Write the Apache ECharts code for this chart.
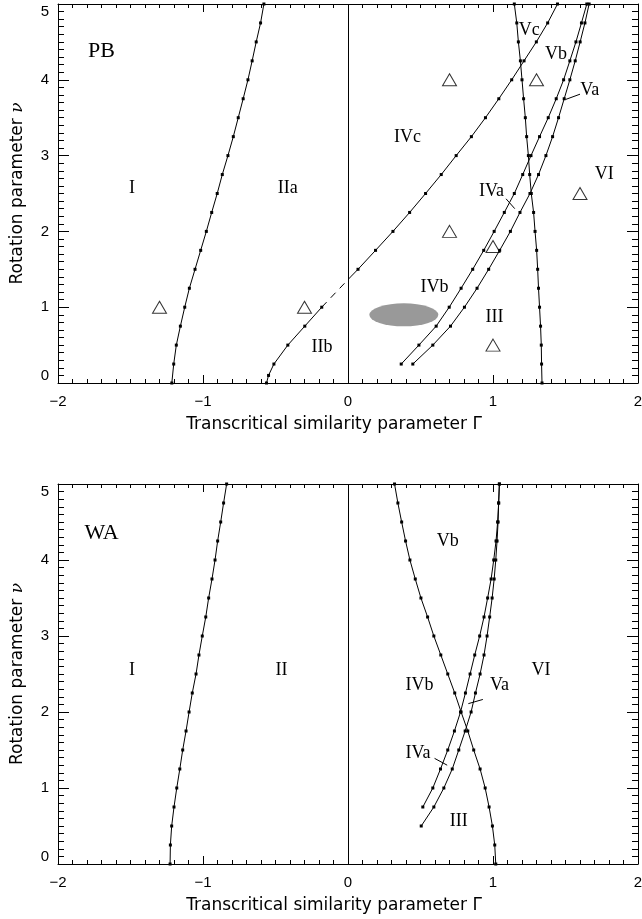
<!DOCTYPE html>
<html>
<head>
<meta charset="utf-8">
<script src="https://cdn.jsdelivr.net/npm/echarts@6.0.0/dist/echarts.min.js"></script>
<style>
  html, body { margin: 0; padding: 0; background: #fff; }
  #chart { width: 642px; height: 919px; }
</style>
</head>
<body>
<div id="chart"></div>
<script>
// ---- data (x = Gamma, y = nu) ----
const xTicks = [-2, -1, 0, 1, 2];
const yTicks = [0, 1, 2, 3, 4, 5];

// PB panel
const pbLeft = [[-1.215,0],[-1.202,0.25],[-1.184,0.5],[-1.156,0.75],[-1.126,1.0],[-1.094,1.25],[-1.055,1.5],[-1.016,1.75],[-0.977,2.0],[-0.94,2.25],[-0.902,2.5],[-0.867,2.75],[-0.828,3.0],[-0.791,3.25],[-0.757,3.5],[-0.723,3.75],[-0.69,4.0],[-0.661,4.25],[-0.633,4.5],[-0.603,4.75],[-0.58,5.0]];
const pbIIb = [[-0.562,0],[-0.548,0.1],[-0.511,0.25],[-0.415,0.5],[-0.298,0.75],[-0.181,1.0]];
const pbDashed = [[-0.181,1.0],[0.023,1.41]];
const pbIVc = [[0.023,1.41],[0.069,1.5],[0.19,1.75],[0.31,2.0],[0.425,2.25],[0.535,2.5],[0.643,2.75],[0.746,3.0],[0.851,3.25],[0.948,3.5],[1.04,3.75],[1.129,4.0],[1.214,4.25],[1.299,4.5],[1.377,4.75],[1.445,5.0]];
const pbVc = [[1.338,0],[1.335,0.25],[1.333,0.5],[1.328,0.75],[1.321,1.0],[1.314,1.25],[1.308,1.5],[1.301,1.75],[1.29,2.0],[1.28,2.25],[1.264,2.5],[1.253,2.75],[1.244,3.0],[1.232,3.25],[1.223,3.5],[1.211,3.75],[1.2,4.0],[1.189,4.25],[1.175,4.5],[1.164,4.75],[1.147,5.0]];
const pbIVb = [[0.367,0.25],[0.489,0.5],[0.608,0.75],[0.698,1.0],[0.78,1.25],[0.86,1.5],[0.936,1.75],[1.008,2.0],[1.078,2.25],[1.147,2.5],[1.205,2.75],[1.262,3.0],[1.321,3.25],[1.381,3.5],[1.436,3.75],[1.487,4.0],[1.53,4.25],[1.572,4.5],[1.61,4.75],[1.647,5.0]];
const pbIII = [[0.447,0.25],[0.585,0.5],[0.707,0.75],[0.803,1.0],[0.89,1.25],[0.97,1.5],[1.046,1.75],[1.12,2.0],[1.186,2.25],[1.255,2.5],[1.314,2.75],[1.365,3.0],[1.411,3.25],[1.452,3.5],[1.491,3.75],[1.53,4.0],[1.567,4.25],[1.601,4.5],[1.634,4.75],[1.663,5.0]];
const pbTriangles = [[-1.3,1],[-0.3,1],[0.7,4],[1.3,4],[0.7,2],[1.0,1.8],[1.6,2.5],[1.0,0.5]];
const pbBlob = [[0.385,0.9]];
const pbLeaders = [[[1.09,2.43],[1.15,2.30]], [[1.50,3.74],[1.60,3.81]]];
const pbTitle = [['PB',-1.70,4.38]];
const pbRegions = [['I',-1.49,2.57],['IIa',-0.415,2.57],['IIb',-0.18,0.47],['IVc',0.41,3.24],['Vc',1.25,4.66],['Vb',1.434,4.34],['Va',1.668,3.86],['VI',1.767,2.76],['IVa',0.99,2.53],['IVb',0.597,1.265],['III',1.01,0.87]];

// WA panel
const waLeft = [[-1.227,0],[-1.225,0.25],[-1.216,0.5],[-1.2,0.75],[-1.181,1.0],[-1.16,1.25],[-1.14,1.5],[-1.117,1.75],[-1.096,2.0],[-1.074,2.25],[-1.048,2.5],[-1.028,2.75],[-1.005,3.0],[-0.981,3.25],[-0.961,3.5],[-0.938,3.75],[-0.917,4.0],[-0.899,4.25],[-0.878,4.5],[-0.858,4.75],[-0.837,5.0]];
const waDown = [[0.321,5.0],[0.344,4.75],[0.37,4.5],[0.397,4.25],[0.427,4.0],[0.464,3.75],[0.503,3.5],[0.549,3.25],[0.592,3.0],[0.64,2.75],[0.688,2.5],[0.736,2.25],[0.78,2.0],[0.826,1.75],[0.867,1.5],[0.911,1.25],[0.946,1.0],[0.973,0.75],[0.996,0.5],[1.012,0.25],[1.019,0]];
const waIVa = [[0.516,0.75],[0.585,1.0],[0.638,1.25],[0.688,1.5],[0.734,1.75],[0.776,2.0],[0.81,2.25],[0.842,2.5],[0.874,2.75],[0.908,3.0],[0.938,3.25],[0.963,3.5],[0.987,3.75],[1.005,4.0],[1.021,4.25],[1.032,4.5],[1.039,4.75],[1.044,5.0]];
const waVa = [[0.505,0.5],[0.592,0.75],[0.661,1.0],[0.719,1.25],[0.764,1.5],[0.808,1.75],[0.849,2.0],[0.879,2.25],[0.911,2.5],[0.938,2.75],[0.959,3.0],[0.977,3.25],[0.994,3.5],[1.008,3.75],[1.019,4.0],[1.028,4.25],[1.035,4.5],[1.039,4.75],[1.044,5.0]];
const waLeaders = [[[0.83,2.11],[0.93,2.165]], [[0.597,1.39],[0.684,1.30]]];
const waTitle = [['WA',-1.70,4.35]];
const waRegions = [['I',-1.49,2.55],['II',-0.458,2.55],['Vb',0.688,4.24],['VI',1.331,2.55],['IVb',0.493,2.35],['Va',1.044,2.35],['IVa',0.482,1.455],['III',0.764,0.567]];

// ---- chart ----
const sans = 'Liberation Sans';
const titleFont = 'DejaVu Sans';
const serif = 'Liberation Serif';
const black = '#000';

function fmtTick(v) {
  return v < 0 ? '\u2212' + (-v) : String(v);
}

function xAxisPair(g) {
  const base = {
    type: 'value', gridIndex: g, min: xTicks[0], max: xTicks[xTicks.length - 1], interval: 1,
    axisLine: { show: true, onZero: false, lineStyle: { color: black, width: 1 } },
    axisTick: { show: true, inside: true, length: 8, lineStyle: { color: black } },
    minorTick: { show: true, splitNumber: 10, length: 4, lineStyle: { color: black } },
    splitLine: { show: false }
  };
  return [
    Object.assign({}, base, {
      position: 'bottom',
      axisLabel: { show: true, margin: 11, color: black, fontFamily: sans, fontSize: 15, formatter: fmtTick },
      name: 'Transcritical similarity parameter \u0393',
      nameLocation: 'middle',
      nameGap: 33,
      nameTextStyle: { color: black, fontFamily: titleFont, fontSize: 17, padding: [0, 28, 0, 0] }
    }),
    Object.assign({}, base, { position: 'top', axisLabel: { show: false } })
  ];
}

function yAxisPair(g) {
  const base = {
    type: 'value', gridIndex: g, min: yTicks[0], max: yTicks[yTicks.length - 1], interval: 1,
    axisLine: { show: true, onZero: false, lineStyle: { color: black, width: 1 } },
    axisTick: { show: true, inside: true, length: 11, lineStyle: { color: black } },
    minorTick: { show: true, splitNumber: 10, length: 6, lineStyle: { color: black } },
    splitLine: { show: false }
  };
  return [
    Object.assign({}, base, {
      position: 'left',
      axisLabel: {
        show: true, margin: 9, color: black, fontFamily: sans, fontSize: 15,
        verticalAlignMinLabel: 'bottom', verticalAlignMaxLabel: 'top'
      },
      name: 'Rotation parameter {nu|\u03bd}',
      nameLocation: 'middle',
      nameGap: 32,
      nameTextStyle: {
        color: black, fontFamily: titleFont, fontSize: 17,
        rich: { nu: { fontFamily: 'DejaVu Serif', fontStyle: 'italic', fontSize: 17, color: black } }
      }
    }),
    Object.assign({}, base, { position: 'right', axisLabel: { show: false } })
  ];
}

function curve(data, g, extra) {
  return Object.assign({
    type: 'line', xAxisIndex: g * 2, yAxisIndex: g * 2,
    data: data,
    symbol: 'rect', symbolSize: 3, showAllSymbol: true,
    itemStyle: { color: black },
    lineStyle: { color: black, width: 1 },
    silent: true, z: 3
  }, extra || {});
}

function leaders(list, g) {
  return list.map(seg => curve(seg, g, { symbol: 'none' }));
}

function textSeries(list, g, size) {
  return {
    type: 'scatter', xAxisIndex: g * 2, yAxisIndex: g * 2,
    symbolSize: 1,
    itemStyle: { color: 'rgba(255,255,255,0)' },
    data: list.map(t => ({ name: t[0], value: [t[1], t[2]] })),
    label: {
      show: true, position: 'inside', formatter: '{b}', color: black, opacity: 1,
      fontFamily: serif, fontSize: size, textBorderWidth: 0
    },
    silent: true, z: 5
  };
}

function zeroLine(g) {
  return {
    type: 'line', xAxisIndex: g * 2, yAxisIndex: g * 2, data: [],
    markLine: {
      silent: true, symbol: 'none', animation: false,
      label: { show: false },
      lineStyle: { color: black, width: 1, type: 'solid' },
      data: [{ xAxis: 0 }]
    }
  };
}

const series = [
  zeroLine(0),
  curve(pbLeft, 0),
  curve(pbIIb, 0),
  curve(pbDashed, 0, { symbol: 'none', lineStyle: { color: black, width: 1, type: [7, 6] } }),
  curve(pbIVc.map((p, i) => i === 0 ? { value: p, symbol: 'none' } : p), 0),
  curve(pbVc, 0),
  curve(pbIVb, 0),
  curve(pbIII, 0),
  ...leaders(pbLeaders, 0),
  {
    type: 'scatter', xAxisIndex: 0, yAxisIndex: 0, data: pbTriangles,
    symbol: 'triangle', symbolSize: [14, 12],
    itemStyle: { color: 'rgba(0,0,0,0)', borderColor: black, borderWidth: 1 },
    silent: true, z: 4
  },
  {
    type: 'scatter', xAxisIndex: 0, yAxisIndex: 0, data: pbBlob,
    symbol: 'circle', symbolSize: [69, 23],
    itemStyle: { color: '#808080' },
    silent: true, z: 2
  },
  textSeries(pbTitle, 0, 22),
  textSeries(pbRegions, 0, 18),

  zeroLine(1),
  curve(waLeft, 1),
  curve(waDown, 1),
  curve(waIVa, 1),
  curve(waVa, 1),
  ...leaders(waLeaders, 1),
  textSeries(waTitle, 1, 22),
  textSeries(waRegions, 1, 18)
];

const chart = echarts.init(document.getElementById('chart'), null, { renderer: 'canvas' });
chart.setOption({
  animation: false,
  backgroundColor: '#fff',
  grid: [
    { left: 58, right: 4, top: 4, height: 379, containLabel: false, outerBoundsMode: 'none' },
    { left: 58, right: 4, top: 484, height: 380, containLabel: false, outerBoundsMode: 'none' }
  ],
  xAxis: [...xAxisPair(0), ...xAxisPair(1)],
  yAxis: [...yAxisPair(0), ...yAxisPair(1)],
  series: series
});
</script>
</body>
</html>
